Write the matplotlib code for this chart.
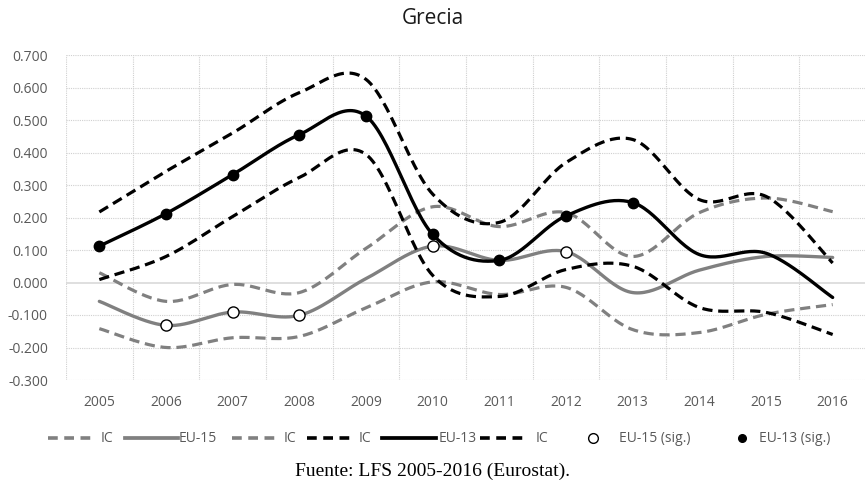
import numpy as np
import matplotlib
matplotlib.use("Agg")
import matplotlib.pyplot as plt
from matplotlib.lines import Line2D

years = [2005, 2006, 2007, 2008, 2009, 2010, 2011, 2012, 2013, 2014, 2015, 2016]
eu15 = [-0.058, -0.132, -0.091, -0.101, 0.012, 0.112, 0.068, 0.095, -0.031, 0.038, 0.080, 0.077]
eu15_hi = [0.030, -0.058, -0.006, -0.031, 0.105, 0.233, 0.172, 0.215, 0.080, 0.215, 0.260, 0.218]
eu15_lo = [-0.142, -0.200, -0.170, -0.166, -0.078, 0.002, -0.037, -0.015, -0.145, -0.154, -0.098, -0.068]
eu13 = [0.112, 0.212, 0.332, 0.455, 0.512, 0.148, 0.068, 0.205, 0.246, 0.086, 0.090, -0.046]
eu13_hi = [0.217, 0.342, 0.460, 0.584, 0.625, 0.272, 0.185, 0.369, 0.440, 0.255, 0.265, 0.060]
eu13_lo = [0.009, 0.080, 0.203, 0.323, 0.394, 0.022, -0.043, 0.040, 0.050, -0.077, -0.092, -0.160]
eu15_sig_years = [2006, 2007, 2008, 2010, 2012]
eu13_sig_years = [2005, 2006, 2007, 2008, 2009, 2010, 2011, 2012, 2013]
yticks = [-0.3, -0.2, -0.1, 0.0, 0.1, 0.2, 0.3, 0.4, 0.5, 0.6, 0.7]
legend_labels = ["IC", "EU-15", "IC", "IC", "EU-13", "IC", "EU-15 (sig.)", "EU-13 (sig.)"]

def smooth(x, y, n=30):
    x = np.asarray(x, float); y = np.asarray(y, float)
    P = np.column_stack([x, y])
    out = [P[0]]
    for i in range(len(P) - 1):
        p0 = P[i - 1] if i > 0 else P[i]
        p1 = P[i]; p2 = P[i + 1]
        p3 = P[i + 2] if i + 2 < len(P) else P[i + 1]
        c1 = p1 + (p2 - p0) / 6.0
        c2 = p2 - (p3 - p1) / 6.0
        t = np.linspace(0, 1, n)[1:, None]
        seg = ((1 - t) ** 3) * p1 + 3 * ((1 - t) ** 2) * t * c1 + 3 * (1 - t) * t ** 2 * c2 + t ** 3 * p2
        out.extend(seg)
    out = np.array(out)
    return out[:, 0], out[:, 1]

W, H = 865, 490
fig = plt.figure(figsize=(W / 100, H / 100), dpi=100)
ax = fig.add_axes([66 / W, 1 - 380 / H, 800 / W, 325 / H])
ax.set_xlim(2004.5, 2016.5)
ax.set_ylim(-0.3, 0.7)

GRAY = "#808080"
dash = (3.2, 1.8)
lw_d = 2.3
lw_s = 2.4

for v in yticks:
    if abs(v) > 1e-9:
        ax.axhline(v, color="#d0d0d0", lw=0.8, ls=(0, (1, 1)), zorder=0)
for xv in np.arange(2004.5, 2017, 1.0):
    ax.axvline(xv, color="#d0d0d0", lw=0.8, ls=(0, (1, 1)), zorder=0)
ax.axhline(0, color="#d9d9d9", lw=1.2, zorder=0)

def line(y, color, ls, lw, z):
    xs, ys = smooth(years, y)
    if ls == "dash":
        ax.plot(xs, ys, color=color, lw=lw, dashes=dash, zorder=z, solid_capstyle="butt")
    else:
        ax.plot(xs, ys, color=color, lw=lw, zorder=z, solid_capstyle="round")

line(eu15_hi, GRAY, "dash", lw_d, 2)
line(eu15_lo, GRAY, "dash", lw_d, 2)
line(eu15, GRAY, "solid", lw_s, 3)
line(eu13_hi, "black", "dash", lw_d, 4)
line(eu13_lo, "black", "dash", lw_d, 4)
line(eu13, "black", "solid", lw_s, 5)

s15 = [eu15[years.index(y)] for y in eu15_sig_years]
s13 = [eu13[years.index(y)] for y in eu13_sig_years]
ax.plot(eu15_sig_years, s15, "o", ms=8, mfc="white", mec="black", mew=1.0, ls="none", zorder=6)
ax.plot(eu13_sig_years, s13, "o", ms=7.5, mfc="black", mec="black", ls="none", zorder=7)

ax.set_xticks(years)
ax.set_xticklabels([str(y) for y in years])
ax.set_yticks(yticks)
ax.set_yticklabels([f"{v:.3f}" for v in yticks])
ax.tick_params(axis="y", length=0, labelsize=10, labelcolor="#595959", pad=13)
ax.tick_params(axis="x", length=0, labelsize=10, labelcolor="#595959", pad=11)
for t in ax.get_xticklabels() + ax.get_yticklabels():
    t.set_fontfamily("Open Sans")
for s in ax.spines.values():
    s.set_visible(False)

fig.text(0.5, 1 - 18 / H, "Grecia", ha="center", va="center", fontsize=15,
         family="Open Sans", color="#1a1a1a")

# legend drawn manually in figure pixel coordinates
ly = 1 - 438 / H
def fx(px):
    return px / W
handle_spans = [(48, 92), (125, 178), (232, 277), (307, 352), (382, 436), (480, 525)]
handle_styles = [(GRAY, "dash"), (GRAY, "solid"), (GRAY, "dash"),
                 ("black", "dash"), ("black", "solid"), ("black", "dash")]
text_x = [101, 179, 284, 359, 439, 536, 619, 759]
for (x0, x1), (c, st) in zip(handle_spans, handle_styles):
    if st == "dash":
        ln = Line2D([fx(x0), fx(x1)], [ly, ly], color=c, lw=2.6, dashes=(2.7, 1.8),
                    transform=fig.transFigure)
    else:
        ln = Line2D([fx(x0), fx(x1)], [ly, ly], color=c, lw=lw_s + 0.3,
                    transform=fig.transFigure)
    fig.add_artist(ln)
fig.add_artist(Line2D([fx(593)], [ly], marker="o", ms=7, mfc="white", mec="black", mew=1.0,
                      ls="none", transform=fig.transFigure))
fig.add_artist(Line2D([fx(742)], [ly], marker="o", ms=5.5, mfc="black", mec="black",
                      ls="none", transform=fig.transFigure))
for tx, lab in zip(text_x, legend_labels):
    fig.text(fx(tx), ly, lab, ha="left", va="center", fontsize=10, family="Open Sans",
             color="#595959")

fig.text(0.5, 1 - 471 / H, "Fuente: LFS 2005-2016 (Eurostat).", ha="center", va="center",
         fontsize=14, family="Liberation Serif", color="black")

fig.savefig("out.png", dpi=100)
